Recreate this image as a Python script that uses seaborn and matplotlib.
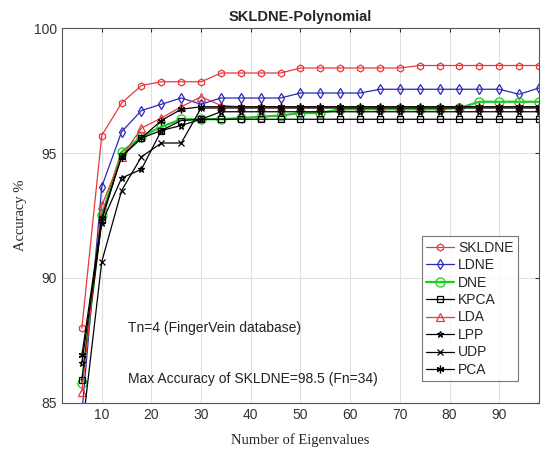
import matplotlib
matplotlib.use("Agg")
import matplotlib.pyplot as plt
import numpy as np
import pandas as pd
import seaborn as sns

# number of eigenvalues (Fn)
eigen_n = [6, 10, 14, 18, 22, 26, 30, 34, 38, 42, 46, 50,
           54, 58, 62, 66, 70, 74, 78, 82, 86, 90, 94, 98]

skldne = [88.0, 95.7, 97.0, 97.7, 97.85, 97.85, 97.85, 98.2, 98.2, 98.2, 98.2, 98.4,
          98.4, 98.4, 98.4, 98.4, 98.4, 98.5, 98.5, 98.5, 98.5, 98.5, 98.5, 98.5]
ldne = [84.6, 93.65, 95.85, 96.7, 96.95, 97.2, 96.95, 97.2, 97.2, 97.2, 97.2, 97.4,
        97.4, 97.4, 97.4, 97.55, 97.55, 97.55, 97.55, 97.55, 97.55, 97.55, 97.35, 97.6]
dne = [85.8, 92.5, 95.05, 95.65, 96.05, 96.35, 96.35, 96.35, 96.4, 96.45, 96.5, 96.6,
       96.6, 96.75, 96.75, 96.75, 96.75, 96.75, 96.75, 96.8, 97.05, 97.05, 97.05, 97.05]
kpca = [85.9, 92.3, 94.9, 95.6, 95.9, 96.3, 96.35, 96.35, 96.35, 96.35, 96.35, 96.35,
        96.35, 96.35, 96.35, 96.35, 96.35, 96.35, 96.35, 96.35, 96.35, 96.35, 96.35, 96.35]
lda = [85.45, 92.9, 94.85, 96.0, 96.4, 96.85, 97.25, 96.9, 96.85, 96.85, 96.85, 96.85,
       96.85, 96.85, 96.85, 96.85, 96.85, 96.85, 96.85, 96.85, 96.85, 96.85, 96.85, 96.85]
lpp = [86.6, 92.2, 94.0, 94.35, 95.9, 96.1, 96.35, 96.65, 96.65, 96.65, 96.65, 96.65,
       96.65, 96.65, 96.65, 96.65, 96.65, 96.65, 96.65, 96.65, 96.65, 96.65, 96.65, 96.65]
udp = [83.8, 90.65, 93.5, 94.85, 95.4, 95.4, 96.8, 96.8, 96.8, 96.8, 96.8, 96.8,
       96.8, 96.8, 96.8, 96.8, 96.8, 96.8, 96.8, 96.8, 96.8, 96.8, 96.8, 96.8]
pca = [86.9, 92.4, 94.85, 95.6, 96.3, 96.75, 96.85, 96.85, 96.85, 96.85, 96.85, 96.85,
       96.85, 96.85, 96.85, 96.85, 96.85, 96.85, 96.85, 96.85, 96.85, 96.85, 96.85, 96.85]

methods = ["SKLDNE", "LDNE", "DNE", "KPCA", "LDA", "LPP", "UDP", "PCA"]
series = [skldne, ldne, dne, kpca, lda, lpp, udp, pca]

colors = ["#e8393c", "#2a2ab8", "#1ccc1c", "black", "#e8393c", "black", "black", "black"]
markers = ["h", "d", "o", "s", "^", "*", "x", (6, 2, 0)]
sizes = [5, 5.5, 6.5, 4.5, 5.5, 5, 4, 5.5]

sns.set_style("white")
plt.rcParams["font.family"] = ["Liberation Sans", "DejaVu Sans"]

fig = plt.figure(figsize=(5.41, 4.57), dpi=100)
ax = fig.add_axes([0.1146, 0.1182, 0.8817, 0.8205])

for name, vals, c, m, ms in zip(methods, series, colors, markers, sizes):
    df = pd.DataFrame({"n": eigen_n, "acc": vals})
    lw = 1.6 if name == "DNE" else 0.9
    sns.lineplot(data=df, x="n", y="acc", ax=ax, color=c, marker=m,
                 markersize=ms, mfc="none", mec=c, mew=0.9, lw=lw,
                 label=name)

ax.set_xlim(2, 98)
ax.set_ylim(85, 100)
ax.set_xticks([10, 20, 30, 40, 50, 60, 70, 80, 90])
ax.set_yticks([85, 90, 95, 100])
ax.grid(True, color="#e0e0e0", lw=0.8)
ax.tick_params(direction="in", top=True, right=True, length=3,
               labelsize=10, colors="#333333", labelcolor="#333333")
for sp in ax.spines.values():
    sp.set_color("#555555")
    sp.set_linewidth(0.8)

ax.set_title("SKLDNE-Polynomial", fontsize=10.5, fontweight="bold", pad=5)
ax.set_xlabel("Number of Eigenvalues", family="Liberation Serif", fontsize=10.5, labelpad=8)
ax.set_ylabel("Accuracy %", family="Liberation Serif", fontsize=10.5, labelpad=5)

ax.text(15.3, 88.0, "Tn=4 (FingerVein database)", fontsize=10, va="center", color="#222222")
ax.text(15.3, 85.95, "Max Accuracy of SKLDNE=98.5 (Fn=34)", fontsize=10, va="center", color="#222222")

leg = ax.legend(loc="lower right", bbox_to_anchor=(0.97, 0.04), fontsize=10,
                frameon=True, fancybox=False, edgecolor="#555555",
                handlelength=2.0, handletextpad=0.3, labelspacing=0.25,
                borderpad=0.3)
leg.get_frame().set_linewidth(0.8)

fig.savefig("out.png", dpi=100)
